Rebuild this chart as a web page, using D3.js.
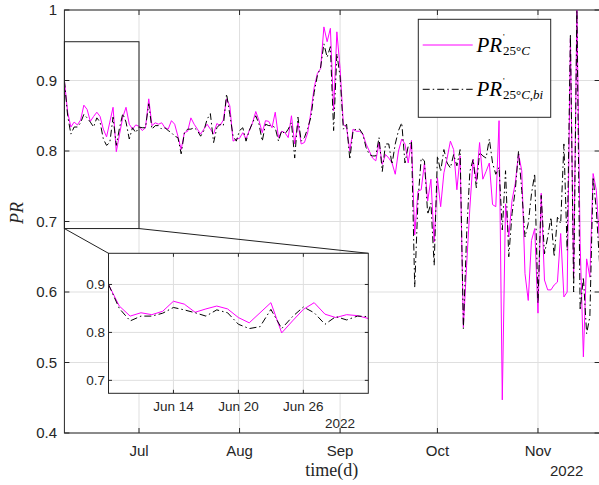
<!DOCTYPE html>
<html><head><meta charset="utf-8">
<script src="https://cdn.jsdelivr.net/npm/d3@7"></script>
<style>html,body{margin:0;padding:0;background:#fff;}svg{display:block;}</style>
</head><body>
<script>
// ---- data ----
const startDate = "2022-06-08";
const endDate = "2022-11-20";
const prTemp = [
 0.900,0.855,0.834,0.841,0.837,0.844,0.865,0.859,0.842,0.849,0.855,0.849,0.831,0.820,0.841,0.862,0.799,0.824,0.848,0.862,0.838,0.831,0.837,0.835,0.829,
 0.833,0.874,0.836,0.840,0.838,0.840,0.833,0.831,0.843,0.838,0.821,0.802,0.826,0.828,0.847,0.838,0.831,0.824,0.831,0.838,0.831,0.824,0.839,0.836,0.844,0.874,0.864,0.814,0.817,
 0.818,0.826,0.817,0.829,0.840,0.856,0.843,0.826,0.843,
 0.842,0.833,0.855,0.819,0.828,0.826,0.819,0.850,0.810,0.840,0.810,0.812,0.826,0.855,0.890,0.910,0.917,0.976,0.955,0.974,0.857,0.969,
 0.917,0.838,0.833,0.800,0.831,0.828,0.828,0.824,0.810,0.800,0.790,0.786,0.812,0.781,0.795,0.790,0.783,0.767,0.800,
 0.817,0.810,0.783,0.815,0.681,0.743,0.745,0.783,0.729,0.760,0.671,
 0.762,0.721,0.769,0.790,0.814,0.802,0.745,0.793,0.550,0.638,0.719,0.788,0.757,0.812,0.760,0.771,0.783,0.724,0.721,
 0.843,0.447,0.725,0.678,0.730,0.754,0.796,0.772,0.626,0.588,0.673,0.690,
 0.570,0.740,0.617,0.603,0.603,0.610,0.614,0.683,0.593,0.600,0.960,0.620,1.000,0.669,0.508,0.647,0.621,0.768,0.744,0.669
];
const prTempBi = [
 0.900,0.850,0.824,0.834,0.834,0.840,0.852,0.847,0.841,0.834,0.847,0.841,0.817,0.808,0.812,0.848,0.808,0.833,0.853,0.841,0.817,0.833,0.826,0.834,0.833,
 0.833,0.867,0.831,0.836,0.836,0.831,0.833,0.829,0.826,0.821,0.819,0.796,0.826,0.831,0.831,0.833,0.829,0.821,0.829,0.845,0.853,0.812,0.833,0.838,0.836,0.881,0.852,0.821,0.814,
 0.829,0.833,0.814,0.829,0.840,0.850,0.838,0.814,0.838,
 0.836,0.836,0.833,0.814,0.829,0.824,0.831,0.840,0.790,0.848,0.814,0.819,0.832,0.848,0.883,0.907,0.919,0.952,0.933,0.948,0.829,0.938,
 0.905,0.831,0.838,0.788,0.829,0.831,0.831,0.824,0.805,0.795,0.793,0.793,0.819,0.771,0.810,0.810,0.781,0.810,0.829,
 0.840,0.783,0.807,0.814,0.607,0.729,0.790,0.786,0.710,0.726,0.638,
 0.793,0.771,0.802,0.783,0.776,0.795,0.779,0.802,0.548,0.681,0.771,0.788,0.748,0.798,0.793,0.790,0.817,0.783,0.767,
 0.777,0.688,0.772,0.650,0.711,0.744,0.800,0.744,0.678,0.697,0.739,0.768,
 0.584,0.737,0.654,0.678,0.706,0.650,0.706,0.697,0.810,0.659,0.966,0.600,1.000,0.574,0.621,0.541,0.565,0.763,0.716,0.640
];
const yTicks = [0.4,0.5,0.6,0.7,0.8,0.9,1];
const xTicks = ["2022-07-01","2022-08-01","2022-09-01","2022-10-01","2022-11-01"];
const insetYTicks = [0.7,0.8,0.9];
const insetXTicks = ["2022-06-14","2022-06-20","2022-06-26"];
const insetStart = "2022-06-08", insetEnd = "2022-07-02";
const zoomBox = {x0:"2022-06-08", x1:"2022-07-01", y0:0.69, y1:0.955};
const seriesNames = ["PR25C","PR25Cbi"];

// ---- setup ----
const parse = d3.timeParse("%Y-%m-%d");
const dates = d3.timeDay.range(parse(startDate), d3.timeDay.offset(parse(endDate),1));
const rows = dates.map((d,i)=>({date:d, a:prTemp[i], b:prTempBi[i]}));

const W=599,H=485;
const svg = d3.select("body").append("svg").attr("width",W).attr("height",H);
svg.append("rect").attr("width",W).attr("height",H).attr("fill","#fff");

const axCol="#262626", gridCol="#dfdfdf";
const sans="'Liberation Sans', Arial, Helvetica, sans-serif";
const serif="'Liberation Serif','Times New Roman', serif";

const x = d3.scaleTime().domain([parse(startDate), parse(endDate)]).range([64.4, 599.6]);
const y = d3.scaleLinear().domain([0.4,1]).range([433,10]);
const L=x.range()[0], R=x.range()[1], T=y.range()[1], B=y.range()[0];

function drawAxes(g, xs, ys, xt, yt, fs, tickLen, xfmt, xLabY, yLabX){
  const l=xs.range()[0], r=xs.range()[1], t=ys.range()[1], b=ys.range()[0];
  // grid
  g.append("g").selectAll("line").data(xt).join("line")
    .attr("x1",d=>xs(d)).attr("x2",d=>xs(d)).attr("y1",t).attr("y2",b)
    .attr("stroke",gridCol).attr("stroke-width",1);
  g.append("g").selectAll("line").data(yt).join("line")
    .attr("y1",d=>ys(d)).attr("y2",d=>ys(d)).attr("x1",l).attr("x2",r)
    .attr("stroke",gridCol).attr("stroke-width",1);
}
function drawFrame(g, xs, ys, xt, yt, fs, tickLen, xfmt, xLabY, yLabX){
  const l=xs.range()[0], r=xs.range()[1], t=ys.range()[1], b=ys.range()[0];
  const fr = g.append("g").attr("stroke",axCol).attr("stroke-width",1);
  fr.append("rect").attr("x",l).attr("y",t).attr("width",r-l).attr("height",b-t).attr("fill","none");
  xt.forEach(d=>{
    fr.append("line").attr("x1",xs(d)).attr("x2",xs(d)).attr("y1",b).attr("y2",b-tickLen);
    fr.append("line").attr("x1",xs(d)).attr("x2",xs(d)).attr("y1",t).attr("y2",t+tickLen);
  });
  yt.forEach(d=>{
    fr.append("line").attr("y1",ys(d)).attr("y2",ys(d)).attr("x1",l).attr("x2",l+tickLen);
    fr.append("line").attr("y1",ys(d)).attr("y2",ys(d)).attr("x1",r).attr("x2",r-tickLen);
  });
  g.append("g").selectAll("text").data(xt).join("text")
    .attr("x",d=>xs(d)).attr("y",xLabY).attr("text-anchor","middle")
    .attr("font-family",sans).attr("font-size",fs).attr("fill",axCol).text(xfmt);
  g.append("g").selectAll("text").data(yt).join("text")
    .attr("x",yLabX).attr("y",d=>ys(d)).attr("dy","0.36em").attr("text-anchor","end")
    .attr("font-family",sans).attr("font-size",fs).attr("fill",axCol).text(d3.format("~g"));
}

const xTickDates = xTicks.map(parse);
const main = svg.append("g");
drawAxes(main, x, y, xTickDates, yTicks);

const lineA = d3.line().x(d=>x(d.date)).y(d=>y(d.a));
const lineB = d3.line().x(d=>x(d.date)).y(d=>y(d.b));
const clip = svg.append("defs").append("clipPath").attr("id","clipMain");
clip.append("rect").attr("x",L).attr("y",T).attr("width",R-L).attr("height",B-T);
const plotG = main.append("g").attr("clip-path","url(#clipMain)");
plotG.append("path").datum(rows).attr("d",lineA).attr("fill","none").attr("stroke","#ff00ff").attr("stroke-width",1);
plotG.append("path").datum(rows).attr("d",lineB).attr("fill","none").attr("stroke","#000").attr("stroke-width",1).attr("stroke-dasharray","7,3,1.5,3");

drawFrame(main, x, y, xTickDates, yTicks, 15, 5, d3.timeFormat("%b"), 456, 57);

// labels
svg.append("text").attr("x",331.7).attr("y",476).attr("text-anchor","middle")
  .attr("font-family",serif).attr("font-size",18).attr("fill",axCol).text("time(d)");
svg.append("text").attr("x",566.7).attr("y",476).attr("text-anchor","middle")
  .attr("font-family",sans).attr("font-size",15).attr("fill",axCol).text("2022");
svg.append("text").attr("transform","translate(23,213) rotate(-90)").attr("text-anchor","middle")
  .attr("font-family",serif).attr("font-style","italic").attr("font-size",18).attr("fill",axCol).text("PR");

// zoom rectangle & connectors
const zx0=x(parse(zoomBox.x0)), zx1=x(parse(zoomBox.x1)), zy0=y(zoomBox.y0), zy1=y(zoomBox.y1);
svg.append("rect").attr("x",zx0).attr("y",zy1).attr("width",zx1-zx0).attr("height",zy0-zy1)
  .attr("fill","none").attr("stroke","#222").attr("stroke-width",1);

// inset
const xi = d3.scaleTime().domain([parse(insetStart), parse(insetEnd)]).range([108.5, 368.3]);
const yi = d3.scaleLinear().domain([0.673,0.965]).range([393.3,253.3]);
svg.append("line").attr("x1",zx0).attr("y1",zy0).attr("x2",xi.range()[0]).attr("y2",yi.range()[1]).attr("stroke","#222");
svg.append("line").attr("x1",zx1).attr("y1",zy0).attr("x2",xi.range()[1]).attr("y2",yi.range()[1]).attr("stroke","#222");

const inset = svg.append("g");
inset.append("rect").attr("x",xi.range()[0]).attr("y",yi.range()[1]).attr("width",xi.range()[1]-xi.range()[0])
  .attr("height",yi.range()[0]-yi.range()[1]).attr("fill","#fff");
const insetXT = insetXTicks.map(parse);
drawAxes(inset, xi, yi, insetXT, insetYTicks);
const insRows = rows.filter(d=>d.date<=parse(insetEnd));
inset.append("path").datum(insRows).attr("d",d3.line().x(d=>xi(d.date)).y(d=>yi(d.a)))
  .attr("fill","none").attr("stroke","#ff00ff").attr("stroke-width",1);
inset.append("path").datum(insRows).attr("d",d3.line().x(d=>xi(d.date)).y(d=>yi(d.b)))
  .attr("fill","none").attr("stroke","#000").attr("stroke-width",1).attr("stroke-dasharray","7,3,1.5,3");
drawFrame(inset, xi, yi, insetXT, insetYTicks, 13.5, 3.5, d3.timeFormat("%b %d"), 411, 105);
inset.append("text").attr("x",340).attr("y",428).attr("text-anchor","middle")
  .attr("font-family",sans).attr("font-size",13.5).attr("fill",axCol).text("2022");

// legend
const lg = svg.append("g");
lg.append("rect").attr("x",418.3).attr("y",19.3).attr("width",132.4).attr("height",98)
  .attr("fill","#fff").attr("stroke","#262626").attr("stroke-width",1);
const legY=[45,89.3];
lg.append("line").attr("x1",422.7).attr("x2",472.7).attr("y1",legY[0]).attr("y2",legY[0]).attr("stroke","#ff00ff");
lg.append("line").attr("x1",422.7).attr("x2",472.7).attr("y1",legY[1]).attr("y2",legY[1]).attr("stroke","#000").attr("stroke-dasharray","7,3,1.5,3");
legY.forEach((ly,i)=>{
  const t = lg.append("text").attr("x",476.5).attr("y",ly+7).attr("font-family",serif).attr("font-size",21).attr("fill","#000");
  t.append("tspan").attr("font-style","italic").text("PR");
  lg.append("text").attr("x",503).attr("y",ly-5).attr("font-family",serif).attr("font-size",9).text("'");
  const s = lg.append("text").attr("x",503).attr("y",ly+10).attr("font-family",serif).attr("font-size",13).attr("fill","#000");
  s.append("tspan").text("25°");
  s.append("tspan").attr("font-style","italic").text(i===0?"C":"C,bi");
});
</script>
</body></html>
